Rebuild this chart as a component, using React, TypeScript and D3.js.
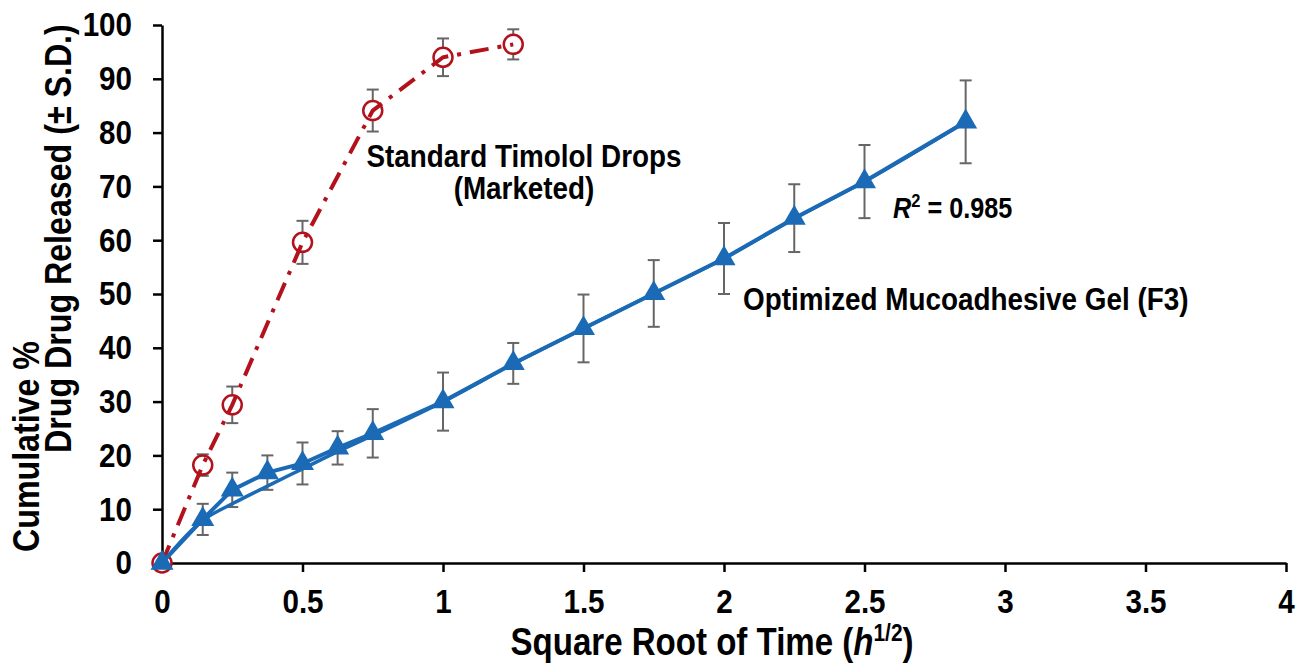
import React, { useEffect, useRef } from 'react';
import * as d3 from 'd3';

// Higuchi plot, cumulative % released vs square root of time
const gelX = [0, 0.145, 0.25, 0.375, 0.5, 0.625, 0.75, 1, 1.25, 1.5, 1.75, 2, 2.25, 2.5, 2.86];
const gelY = [0, 8.1, 13.6, 16.8, 18.5, 21.4, 24.1, 30.0, 37.1, 43.6, 50.1, 56.6, 64.1, 70.9, 82.0];
const gelSD = [0, 2.9, 3.2, 3.2, 3.9, 3.1, 4.5, 5.4, 3.8, 6.3, 6.2, 6.6, 6.3, 6.8, 7.7];
// trend curve
const gelFit = [0, 7.9, 11.0, 14.3, 17.5, 20.7, 23.7, 30.0, 37.0, 43.6, 50.1, 56.6, 64.0, 70.9, 82.0];

const dropsX = [0, 0.145, 0.25, 0.5, 0.75, 1, 1.25];
const dropsY = [0, 18.2, 29.4, 59.6, 84.1, 94.0, 96.4];
const dropsSD = [0, 2.0, 3.4, 4.0, 3.9, 3.5, 2.8];

const xTicks = [0, 0.5, 1, 1.5, 2, 2.5, 3, 3.5, 4];
const yTicks = [0, 10, 20, 30, 40, 50, 60, 70, 80, 90, 100];

const FONT = "'Liberation Sans', Arial, Helvetica, sans-serif";
const BLUE = '#1a6ab5';
const RED = '#b3121c';
const GREY = '#666666';
// the source text is a condensed bold face, squeeze it horizontally
const SX = 0.87;

export default function App() {
  const svgRef = useRef<SVGSVGElement>(null);

  useEffect(() => {
    const svg = d3.select(svgRef.current);
    svg.selectAll('*').remove();

    const x = d3.scaleLinear().domain([0, 4]).range([162, 1286]);
    const y = d3.scaleLinear().domain([0, 100]).range([563, 25]);

    // axes
    const xAxis = svg.append('g')
      .attr('transform', `translate(0,${y(0)})`)
      .call(d3.axisBottom(x).tickValues(xTicks).tickSize(9).tickSizeOuter(0).tickPadding(17).tickFormat(d => String(d)));
    const yAxis = svg.append('g')
      .attr('transform', `translate(${x(0)},0)`)
      .call(d3.axisLeft(y).tickValues(yTicks).tickSize(9).tickSizeOuter(0).tickPadding(21).tickFormat(d => String(d)));

    [xAxis, yAxis].forEach(g => {
      g.select('.domain').attr('stroke', '#000').attr('stroke-width', 2.5);
      g.selectAll('.tick line').attr('stroke', '#000').attr('stroke-width', 2.5);
      g.selectAll('.tick text')
        .attr('font-family', FONT)
        .attr('font-size', 34)
        .attr('font-weight', 'bold')
        .attr('fill', '#000')
        .attr('transform', `scale(${SX},1)`);
    });
    yAxis.selectAll('.tick text').attr('x', -30 / SX);

    const drops = dropsX.map((v, i) => ({ x: v, y: dropsY[i], sd: dropsSD[i] }));
    const gel = gelX.map((v, i) => ({ x: v, y: gelY[i], sd: gelSD[i], fit: gelFit[i] }));

    const errorBars = (data: { x: number; y: number; sd: number }[]) => {
      const g = svg.append('g').attr('stroke', GREY).attr('stroke-width', 2);
      data.filter(d => d.sd > 0).forEach(d => {
        const cx = x(d.x);
        g.append('line').attr('x1', cx).attr('x2', cx).attr('y1', y(d.y - d.sd)).attr('y2', y(d.y + d.sd));
        g.append('line').attr('x1', cx - 6).attr('x2', cx + 6).attr('y1', y(d.y - d.sd)).attr('y2', y(d.y - d.sd));
        g.append('line').attr('x1', cx - 6).attr('x2', cx + 6).attr('y1', y(d.y + d.sd)).attr('y2', y(d.y + d.sd));
      });
    };

    // marketed drops
    errorBars(drops);
    svg.append('g').selectAll('circle')
      .data(drops)
      .join('circle')
      .attr('cx', d => x(d.x))
      .attr('cy', d => y(d.y))
      .attr('r', 9.5)
      .attr('fill', '#fff')
      .attr('stroke', RED)
      .attr('stroke-width', 2.5);

    const line = d3.line<{ x: number; y: number }>().x(d => x(d.x)).y(d => y(d.y));
    svg.append('path')
      .attr('d', line(drops))
      .attr('fill', 'none')
      .attr('stroke', RED)
      .attr('stroke-width', 4)
      .attr('stroke-dasharray', '19 9 4 9');

    // mucoadhesive gel
    errorBars(gel);
    const fitLine = d3.line<{ x: number; fit: number }>()
      .x(d => x(d.x))
      .y(d => y(d.fit))
      .curve(d3.curveMonotoneX);
    svg.append('path')
      .attr('d', fitLine(gel))
      .attr('fill', 'none')
      .attr('stroke', BLUE)
      .attr('stroke-width', 3.5);
    svg.append('path')
      .attr('d', line(gel))
      .attr('fill', 'none')
      .attr('stroke', BLUE)
      .attr('stroke-width', 4);

    svg.append('g').selectAll('path')
      .data(gel)
      .join('path')
      .attr('d', d3.symbol(d3.symbolTriangle, 230))
      .attr('transform', d => `translate(${x(d.x)},${y(d.y)})`)
      .attr('fill', BLUE);

    // labels
    const label = (tx: number, ty: number, txt: string, anchor = 'start', size = 32, rot = 0) =>
      svg.append('text')
        .attr('transform', `translate(${tx},${ty}) rotate(${rot}) scale(${SX},1)`)
        .attr('text-anchor', anchor)
        .attr('font-family', FONT)
        .attr('font-size', size)
        .attr('font-weight', 'bold')
        .attr('fill', '#000')
        .text(txt);

    label(524, 167, 'Standard Timolol Drops', 'middle');
    label(524, 199, '(Marketed)', 'middle');
    label(743, 310, 'Optimized Mucoadhesive Gel (F3)');

    const r2 = label(893, 218, '', 'start', 29);
    r2.append('tspan').attr('font-style', 'italic').text('R');
    r2.append('tspan').attr('font-size', 19).attr('dy', -11).text('2');
    r2.append('tspan').attr('dy', 11).text(' = 0.985');

    const xt = label(712, 655, '', 'middle', 38);
    xt.append('tspan').text('Square Root of Time (');
    xt.append('tspan').attr('font-style', 'italic').text('h');
    xt.append('tspan').attr('font-size', 24).attr('dy', -14).text('1/2');
    xt.append('tspan').attr('dy', 14).text(')');

    label(39, 552, 'Cumulative %', 'start', 37, -90);
    label(71, 453, 'Drug Drug Released (± S.D.)', 'start', 37, -90);
  }, []);

  return (
    <svg
      ref={svgRef}
      width={1305}
      height={665}
      style={{ position: 'absolute', left: 0, top: 0, background: '#fff' }}
    />
  );
}
